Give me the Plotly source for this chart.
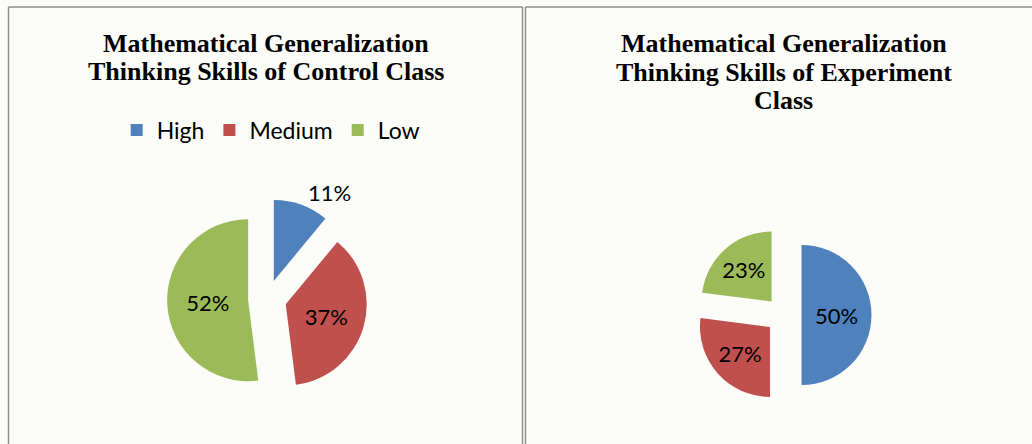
import plotly.graph_objects as go

W, H = 1032, 444

categories = ["High", "Medium", "Low"]
control_values = [11, 37, 52]
experiment_values = [50, 27, 23]
colors = ["#4F81BD", "#C0504D", "#9BBB59"]

title_left = ["Mathematical Generalization", "Thinking Skills of Control Class"]
title_right = ["Mathematical Generalization", "Thinking Skills of Experiment", "Class"]


def px_x(v):
    return v / W


def px_y(v):
    return 1 - v / H


def domain(cx, cy, r, pull):
    half = r * (1 + pull)
    return dict(x=[px_x(cx - half), px_x(cx + half)],
                y=[px_y(cy + half), px_y(cy - half)])


label_font = dict(family="Lato, 'Open Sans', sans-serif", size=22, color="#000000")

fig = go.Figure()

pull_l = 0.237
fig.add_trace(go.Pie(
    labels=categories, values=control_values, sort=False, direction="clockwise",
    rotation=0, pull=[pull_l] * 3, marker=dict(colors=colors, line=dict(width=0)),
    textinfo="percent", texttemplate="%{percent:.0%}",
    textposition=["outside", "inside", "inside"],
    insidetextorientation="horizontal",
    textfont=label_font, insidetextfont=label_font, outsidetextfont=label_font,
    domain=domain(267.3, 299, 81, pull_l), legend="legend", hoverinfo="label+percent",
))

pull_r = 0.257
fig.add_trace(go.Pie(
    labels=categories, values=experiment_values, sort=False, direction="clockwise",
    rotation=0, pull=[pull_r] * 3, marker=dict(colors=colors, line=dict(width=0)),
    textinfo="percent", texttemplate="%{percent:.0%}",
    textposition="inside", insidetextorientation="horizontal",
    textfont=label_font, insidetextfont=label_font,
    domain=domain(783.5, 315, 70, pull_r), legend="legend2", hoverinfo="label+percent",
))

title_font = dict(family="'Liberation Serif', 'Times New Roman', serif", size=26, color="#000000")
annotations = []
for i, line in enumerate(title_left):
    annotations.append(dict(text="<b>%s</b>" % line, x=px_x(266), y=px_y(43.3 + 28.5 * i),
                            xref="paper", yref="paper", xanchor="center", yanchor="middle",
                            showarrow=False, font=title_font))
for i, line in enumerate(title_right):
    annotations.append(dict(text="<b>%s</b>" % line, x=px_x(783.5), y=px_y(43.3 + 28.7 * i),
                            xref="paper", yref="paper", xanchor="center", yanchor="middle",
                            showarrow=False, font=title_font))

border = "#8f8f8f"
shapes = [
    dict(type="line", xref="paper", yref="paper", x0=px_x(8.5), x1=px_x(8.5), y0=px_y(7), y1=0,
         line=dict(color=border, width=1.5)),
    dict(type="line", xref="paper", yref="paper", x0=px_x(8.5), x1=px_x(522.5), y0=px_y(7), y1=px_y(7),
         line=dict(color=border, width=1.5)),
    dict(type="line", xref="paper", yref="paper", x0=px_x(522.5), x1=px_x(522.5), y0=px_y(7), y1=0,
         line=dict(color=border, width=1.5)),
    dict(type="line", xref="paper", yref="paper", x0=px_x(525.5), x1=px_x(525.5), y0=px_y(7), y1=0,
         line=dict(color=border, width=1.5)),
    dict(type="line", xref="paper", yref="paper", x0=px_x(525.5), x1=1, y0=px_y(7), y1=px_y(7),
         line=dict(color=border, width=1.5)),
]

legend_font = dict(family="Lato, 'Open Sans', sans-serif", size=23, color="#000000")
fig.update_layout(
    width=W, height=H, margin=dict(l=0, r=0, t=0, b=0),
    paper_bgcolor="#fcfcf9", plot_bgcolor="#fcfcf9",
    showlegend=True,
    legend=dict(orientation="h", x=px_x(270.7), y=px_y(130), xanchor="center", yanchor="middle",
                font=legend_font, bgcolor="rgba(0,0,0,0)", itemclick=False, traceorder="normal"),
    legend2=dict(orientation="h", x=px_x(788), y=px_y(158), xanchor="center", yanchor="middle",
                 font=legend_font, bgcolor="rgba(0,0,0,0)", itemclick=False, traceorder="normal"),
    annotations=annotations, shapes=shapes,
)

fig.write_html("out.html", config={"displayModeBar": False},
               post_script="document.body.style.margin='0px';document.body.style.overflow='hidden';")
